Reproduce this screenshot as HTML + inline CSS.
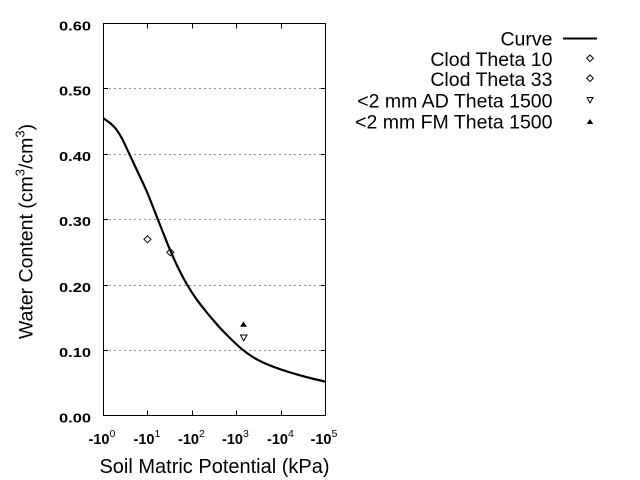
<!DOCTYPE html>
<html>
<head>
<meta charset="utf-8">
<style>
  html, body { margin: 0; padding: 0; background: #ffffff; }
  svg { display: block; }
  text { font-family: "Liberation Sans", Arial, sans-serif; fill: #000; }
</style>
</head>
<body>
<svg width="640" height="480" viewBox="0 0 640 480" xmlns="http://www.w3.org/2000/svg">
  <rect x="0" y="0" width="640" height="480" fill="#ffffff"/>

  <!-- grid lines -->
  <g stroke="#909090" stroke-width="1" stroke-dasharray="2,3">
    <line x1="104" y1="88.5" x2="325" y2="88.5"/>
    <line x1="104" y1="154.5" x2="325" y2="154.5"/>
    <line x1="104" y1="219.5" x2="325" y2="219.5"/>
    <line x1="104" y1="285.5" x2="325" y2="285.5"/>
    <line x1="104" y1="350.5" x2="325" y2="350.5"/>
  </g>

  <!-- ticks -->
  <g stroke="#000" stroke-width="1">
    <line x1="103.5" y1="88.5" x2="108" y2="88.5"/>
    <line x1="103.5" y1="154.5" x2="108" y2="154.5"/>
    <line x1="103.5" y1="219.5" x2="108" y2="219.5"/>
    <line x1="103.5" y1="285.5" x2="108" y2="285.5"/>
    <line x1="103.5" y1="350.5" x2="108" y2="350.5"/>
    <line x1="321" y1="88.5" x2="325.5" y2="88.5"/>
    <line x1="321" y1="154.5" x2="325.5" y2="154.5"/>
    <line x1="321" y1="219.5" x2="325.5" y2="219.5"/>
    <line x1="321" y1="285.5" x2="325.5" y2="285.5"/>
    <line x1="321" y1="350.5" x2="325.5" y2="350.5"/>
    <line x1="147.5" y1="23.5" x2="147.5" y2="28.5"/>
    <line x1="192.5" y1="23.5" x2="192.5" y2="28.5"/>
    <line x1="236.5" y1="23.5" x2="236.5" y2="28.5"/>
    <line x1="281.5" y1="23.5" x2="281.5" y2="28.5"/>
    <line x1="147.5" y1="410.5" x2="147.5" y2="415.5"/>
    <line x1="192.5" y1="410.5" x2="192.5" y2="415.5"/>
    <line x1="236.5" y1="410.5" x2="236.5" y2="415.5"/>
    <line x1="281.5" y1="410.5" x2="281.5" y2="415.5"/>
  </g>

  <!-- plot frame -->
  <rect x="103.5" y="23.5" width="222" height="392" fill="none" stroke="#000" stroke-width="1"/>

  <!-- curve -->
  <defs>
    <clipPath id="pa"><rect x="103" y="23" width="223" height="393"/></clipPath>
  </defs>
  <path clip-path="url(#pa)" fill="none" stroke="#000" stroke-width="2.2" stroke-linejoin="round" stroke-linecap="round"
    d="M103.3,118.3 C104.42,119.08 107.88,121.22 110,123 C112.12,124.78 114,126.42 116,129 C118,131.58 119.75,134.28 122,138.5 C124.25,142.72 126.83,148.63 129.5,154.3 C132.17,159.97 135.08,166.22 138,172.5 C140.92,178.78 143.75,184.33 147,192 C150.25,199.67 154.67,211.33 157.5,218.5 C160.33,225.67 161.87,229.67 164,235 C166.13,240.33 167.97,245.08 170.3,250.5 C172.63,255.92 175.27,261.92 178,267.5 C180.73,273.08 183.7,278.83 186.7,284 C189.7,289.17 192.78,293.92 196,298.5 C199.22,303.08 203,307.75 206,311.5 C209,315.25 211.33,317.92 214,321 C216.67,324.08 219,326.83 222,330 C225,333.17 228.67,336.8 232,340 C235.33,343.2 238.67,346.45 242,349.2 C245.33,351.95 248.67,354.37 252,356.5 C255.33,358.63 258.33,360.25 262,362 C265.67,363.75 269.83,365.42 274,367 C278.17,368.58 282.67,370.12 287,371.5 C291.33,372.88 295.83,374.13 300,375.3 C304.17,376.47 307.72,377.43 312,378.5 C316.28,379.57 323.42,381.17 325.7,381.7"/>

  <!-- data markers -->
  <g fill="none" stroke="#000" stroke-width="1">
    <polygon points="147.5,235.8 151,239.3 147.5,242.8 144,239.3"/>
    <polygon points="170.3,248.8 173.8,252.3 170.3,255.8 166.8,252.3"/>
    <polygon points="240.5,335 247,335 243.7,340.8"/>
  </g>
  <polygon points="240,326.8 247,326.8 243.5,321.5" fill="#000"/>

  <!-- y tick labels -->
  <g font-size="13" font-weight="bold" text-anchor="end">
    <text x="91" y="30.5" textLength="32" lengthAdjust="spacingAndGlyphs">0.60</text>
    <text x="91" y="95.5" textLength="32" lengthAdjust="spacingAndGlyphs">0.50</text>
    <text x="91" y="161" textLength="32" lengthAdjust="spacingAndGlyphs">0.40</text>
    <text x="91" y="226" textLength="32" lengthAdjust="spacingAndGlyphs">0.30</text>
    <text x="91" y="292" textLength="32" lengthAdjust="spacingAndGlyphs">0.20</text>
    <text x="91" y="357" textLength="32" lengthAdjust="spacingAndGlyphs">0.10</text>
    <text x="91" y="422.5" textLength="32" lengthAdjust="spacingAndGlyphs">0.00</text>
  </g>

  <!-- x tick labels -->
  <g font-size="15" font-weight="bold">
    <text x="88.5" y="444" textLength="21" lengthAdjust="spacingAndGlyphs">-10</text>
    <text x="109.5" y="437" font-size="10.5" font-weight="normal">0</text>

    <text x="133.5" y="444" textLength="21" lengthAdjust="spacingAndGlyphs">-10</text>
    <text x="154.5" y="437" font-size="10.5" font-weight="normal">1</text>

    <text x="178" y="444" textLength="21" lengthAdjust="spacingAndGlyphs">-10</text>
    <text x="199" y="437" font-size="10.5" font-weight="normal">2</text>

    <text x="222" y="444" textLength="21" lengthAdjust="spacingAndGlyphs">-10</text>
    <text x="243" y="437" font-size="10.5" font-weight="normal">3</text>

    <text x="267" y="444" textLength="21" lengthAdjust="spacingAndGlyphs">-10</text>
    <text x="288" y="437" font-size="10.5" font-weight="normal">4</text>

    <text x="310.5" y="444" textLength="21" lengthAdjust="spacingAndGlyphs">-10</text>
    <text x="331.5" y="437" font-size="10.5" font-weight="normal">5</text>
  </g>

  <!-- axis titles -->
  <text x="214.5" y="473" font-size="20" text-anchor="middle">Soil Matric Potential (kPa)</text>
  <text transform="translate(32.5,231.5) rotate(-90)" font-size="19.5" text-anchor="middle">Water Content (cm<tspan dy="-8" font-size="13">3</tspan><tspan dy="8">/cm</tspan><tspan dy="-8" font-size="13">3</tspan><tspan dy="8">)</tspan></text>

  <!-- legend -->
  <g font-size="19.5" text-anchor="end">
    <text x="552.5" y="45.5">Curve</text>
    <text x="552.5" y="66">Clod Theta 10</text>
    <text x="552.5" y="86">Clod Theta 33</text>
    <text x="552.5" y="107.5">&lt;2 mm AD Theta 1500</text>
    <text x="552.5" y="128.5">&lt;2 mm FM Theta 1500</text>
  </g>
  <line x1="563" y1="38.5" x2="597" y2="38.5" stroke="#000" stroke-width="2"/>
  <g fill="none" stroke="#000" stroke-width="1">
    <polygon points="590,55 593.3,58.3 590,61.6 586.7,58.3"/>
    <polygon points="590,75 593.3,78.3 590,81.6 586.7,78.3"/>
    <polygon points="587,97.5 593,97.5 590,103"/>
  </g>
  <polygon points="586.8,124 593.2,124 590,119" fill="#000"/>
</svg>
</body>
</html>
